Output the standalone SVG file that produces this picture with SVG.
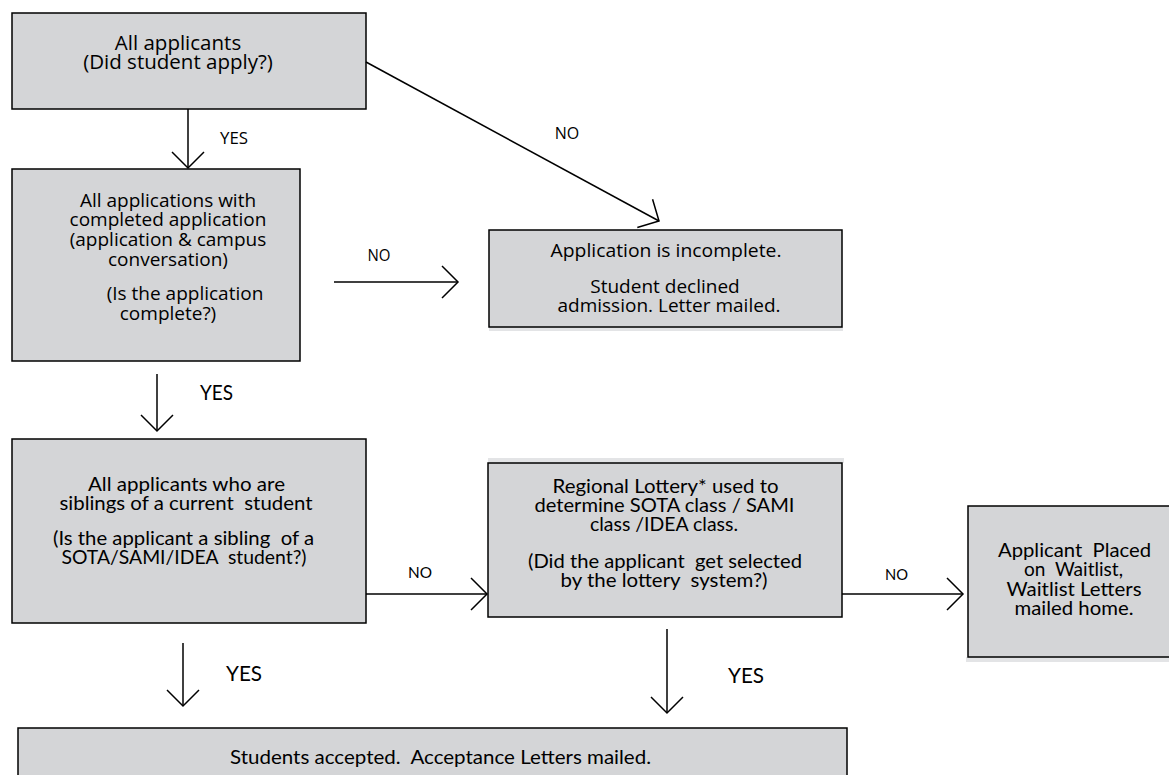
<svg xmlns="http://www.w3.org/2000/svg" width="1169" height="775" viewBox="0 0 1169 775">
<defs>
<style>
.box{fill:#d4d5d7;stroke:#000;stroke-width:1.5}
.shade{fill:#e3e4e6;stroke:none}
.conn{stroke:#000;stroke-width:1.5;fill:none;marker-end:url(#arr)}
.os{font-family:"Open Sans","Liberation Sans",sans-serif;fill:#000;text-anchor:middle}
.lt{font-family:Lato,"Liberation Sans",sans-serif;fill:#000;text-anchor:middle}
.s20{font-size:20.5px}
.s19{font-size:19px}
.s16{font-size:16px}
.l20{font-size:20px}
.l21{font-size:21px}
.l16{font-size:16px}
</style>
<marker id="arr" viewBox="-20 -20 24 40" refX="0" refY="0" markerWidth="24" markerHeight="40" markerUnits="userSpaceOnUse" orient="auto">
<path d="M-16,-16 L0,0 L-16,16" fill="none" stroke="#000" stroke-width="1.5"/>
</marker>
</defs>
<rect width="1169" height="775" fill="#fff"/>

<g id="n-all-applicants">
<rect class="box" x="12" y="13" width="354" height="96"/>
<text class="os s20" x="178" y="50">All applicants</text>
<text class="os s20" x="178" y="69">(Did student apply?)</text>
</g>

<g id="n-completed">
<rect class="box" x="12" y="169" width="288" height="192"/>
<text class="os s19" x="168" y="207">All applications with</text>
<text class="os s19" x="168" y="226">completed application</text>
<text class="os s19" x="168" y="246">(application &amp; campus</text>
<text class="os s19" x="168" y="266">conversation)</text>
<text class="os s19" x="185" y="300">(Is the application</text>
<text class="os s19" x="168" y="320">complete?)</text>
</g>

<g id="n-incomplete">
<rect class="shade" x="489" y="327" width="354" height="4"/>
<rect class="box" x="489" y="230" width="353" height="97"/>
<text class="os s19" x="666" y="257" textLength="231" lengthAdjust="spacingAndGlyphs">Application is incomplete.</text>
<text class="os s19" x="665" y="293">Student declined</text>
<text class="os s19" x="669" y="312">admission. Letter mailed.</text>
</g>

<g id="n-siblings">
<rect class="box" x="12" y="439" width="354" height="184"/>
<text class="lt l20" x="186.5" y="491" textLength="197" lengthAdjust="spacingAndGlyphs">All applicants who are</text>
<text class="lt l20" x="186" y="510" xml:space="preserve" textLength="253" lengthAdjust="spacingAndGlyphs">siblings of a current  student</text>
<text class="lt l20" x="183.5" y="545" xml:space="preserve" textLength="261" lengthAdjust="spacingAndGlyphs">(Is the applicant a sibling  of a</text>
<text class="lt l20" x="184" y="564" xml:space="preserve" textLength="245" lengthAdjust="spacingAndGlyphs">SOTA/SAMI/IDEA  student?)</text>
</g>

<g id="n-lottery">
<rect class="shade" x="488" y="458" width="356" height="5"/>
<rect class="box" x="488" y="463" width="354" height="154"/>
<text class="lt l20" x="665.5" y="493" textLength="226" lengthAdjust="spacingAndGlyphs">Regional Lottery* used to</text>
<text class="lt l20" x="664.5" y="512" textLength="260" lengthAdjust="spacingAndGlyphs">determine SOTA class / SAMI</text>
<text class="lt l20" x="664" y="531" textLength="148" lengthAdjust="spacingAndGlyphs">class /IDEA class.</text>
<text class="lt l20" x="665" y="568" xml:space="preserve" textLength="274" lengthAdjust="spacingAndGlyphs">(Did the applicant  get selected</text>
<text class="lt l20" x="664" y="587" xml:space="preserve" textLength="207" lengthAdjust="spacingAndGlyphs">by the lottery  system?)</text>
</g>

<g id="n-waitlist">
<rect class="shade" x="966" y="657" width="210" height="5"/>
<rect class="box" x="968" y="506" width="212" height="151"/>
<text class="lt l20" x="1074.5" y="557" xml:space="preserve" textLength="153" lengthAdjust="spacingAndGlyphs">Applicant  Placed</text>
<text class="lt l20" x="1073.5" y="576" xml:space="preserve" textLength="99" lengthAdjust="spacingAndGlyphs">on  Waitlist,</text>
<text class="lt l20" x="1074" y="596" textLength="135" lengthAdjust="spacingAndGlyphs">Waitlist Letters</text>
<text class="lt l20" x="1074" y="615" textLength="119" lengthAdjust="spacingAndGlyphs">mailed home.</text>
</g>

<g id="n-accepted">
<rect class="box" x="18" y="728" width="829" height="70"/>
<text class="lt l20" x="440.5" y="764" xml:space="preserve" textLength="421" lengthAdjust="spacingAndGlyphs">Students accepted.  Acceptance Letters mailed.</text>
</g>

<g id="connectors">
<line class="conn" x1="188" y1="109" x2="188" y2="168"/>
<line class="conn" x1="366" y1="62" x2="659" y2="221"/>
<line class="conn" x1="334" y1="282" x2="458" y2="282"/>
<line class="conn" x1="157" y1="374" x2="157" y2="431"/>
<line class="conn" x1="366" y1="594" x2="487" y2="594"/>
<line class="conn" x1="842" y1="594" x2="963" y2="594"/>
<line class="conn" x1="183" y1="643" x2="183" y2="706"/>
<line class="conn" x1="667" y1="629" x2="667" y2="713"/>
<text class="os s16" x="234" y="144" textLength="28" lengthAdjust="spacingAndGlyphs">YES</text>
<text class="os s16" x="567" y="139">NO</text>
<text class="os s16" x="379" y="261" textLength="23" lengthAdjust="spacingAndGlyphs">NO</text>
<text class="lt l21" x="216.5" y="400" textLength="33" lengthAdjust="spacingAndGlyphs">YES</text>
<text class="lt l16" x="420" y="578" textLength="24" lengthAdjust="spacingAndGlyphs">NO</text>
<text class="lt l16" x="896.5" y="580" textLength="23" lengthAdjust="spacingAndGlyphs">NO</text>
<text class="lt l21" x="244" y="681" textLength="36" lengthAdjust="spacingAndGlyphs">YES</text>
<text class="lt l21" x="746" y="683" textLength="36" lengthAdjust="spacingAndGlyphs">YES</text>
</g>
</svg>
